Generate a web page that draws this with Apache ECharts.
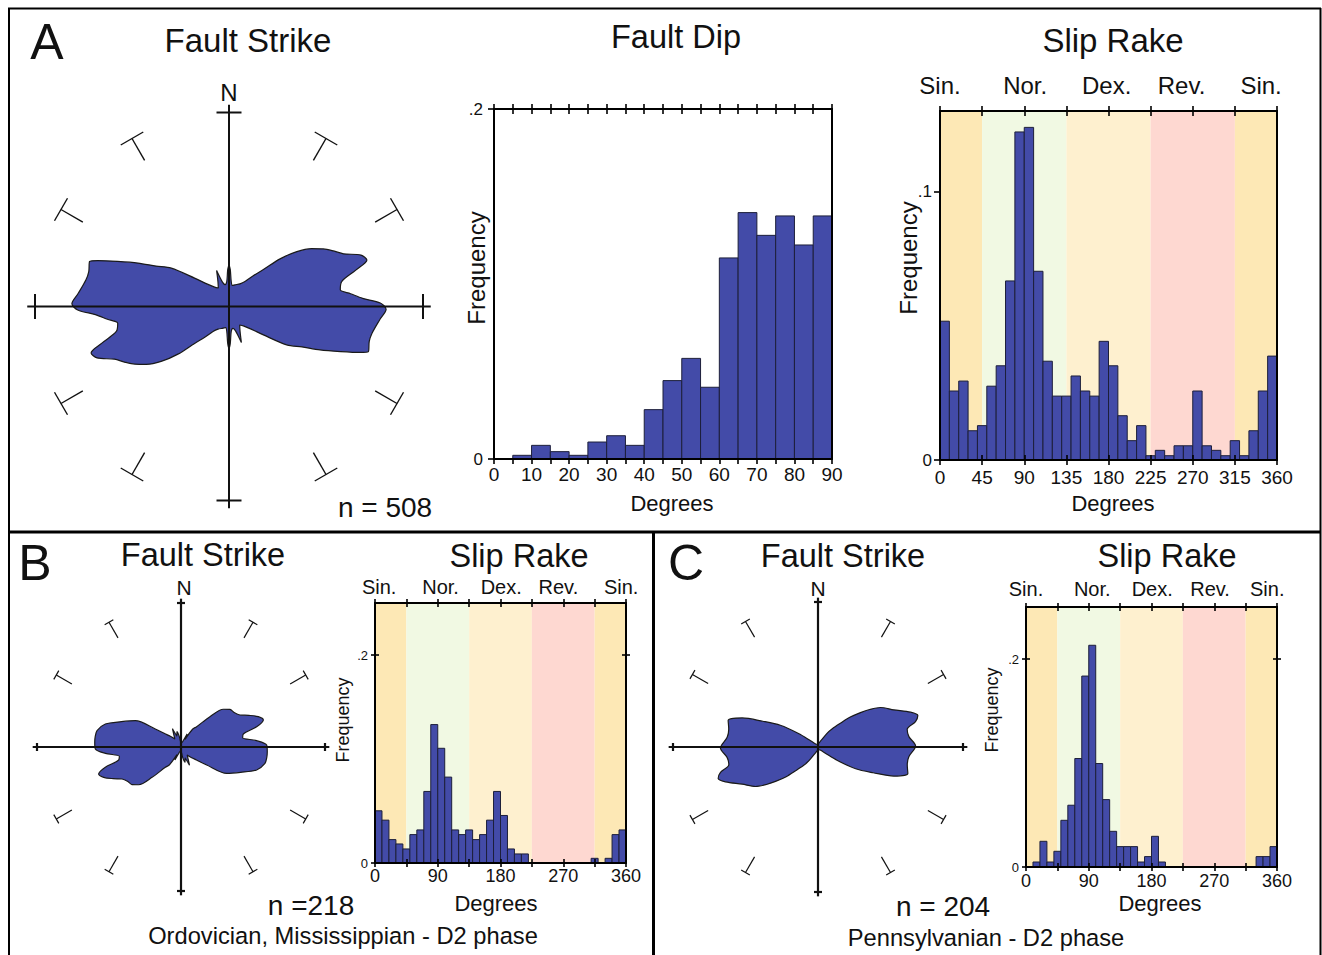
<!DOCTYPE html>
<html><head><meta charset="utf-8">
<script src="https://cdn.jsdelivr.net/npm/echarts@6/dist/echarts.min.js"></script>
<style>html,body{margin:0;padding:0;background:#fff}#c{width:1322px;height:955px}</style>
</head><body><div id="c"></div>
<script>
// ================= DATA =================
// Strike rose tick directions (degrees from north)
const strikeTickAngles = [0,30,60,90,120,150,180,210,240,270,300,330];

// Fault strike roses: radius (% of outer ring) read at azimuths 0-180;
// strikes are bidirectional, so the 180-360 half repeats these readings.
const roseA_az = [0,2,5,9,15.5,25.9,32.6,38,43,47,51,55,58.6,62,65.3,68.7,71.4,74,77.5,81.5,84,86.5,88.7,91,95,100.6,104,107.9,109.3,112,115.5,119,123.6,129.5,136,143.4,150,156,161,165,170,175,178];
const roseA_r  = [21.5,19,13,11,11.6,13,15.3,20,26,36,45,52,57,61,65,73,75,68,59.5,58,63,69,78,81,78,75,74.5,75.5,71.6,62,52,43,35.7,23,16,12.4,11,14,19.6,13,11.5,13,19];

const roseB_az = [0,10,20,25,28,33,37.6,43.7,48.3,52.5,57,61.5,65,68.6,71.8,75,78.2,81.4,85.2,88.7,93.1,97,101,106.9,113,120,125,130,135,142,150,155,159,165,170,175];
const roseB_r  = [3,3,5,10,6,14.7,17.8,29.1,39.4,42.9,44,46.6,52,57.7,60.2,54.4,44.2,43.3,52.7,59.5,60,60,59.4,54.9,45,36.6,21.8,14,10.5,7,10,14,8,11,8,4];

const roseC_az = [0,15,25,33.4,38,43.3,47,51,54,57.7,63.9,69.4,72.5,75.4,78.8,83.5,89.4,96.1,101.4,106.4,111,115,120,125,130,140,160];
const roseC_r  = [2,3,5,11.3,16,22.5,30,37.7,44,51,58.2,68.2,72.2,69.5,62.7,63.1,67.3,63,62.8,64.6,56,42,30,16,7,3,2];

// Fault dip histogram (5 degree bins)
const dipBinStart = [0,5,10,15,20,25,30,35,40,45,50,55,60,65,70,75,80,85];
const dipBinWidth = 5;
const dipFreq = [0,0.0021,0.0078,0.0042,0.0021,0.0097,0.0133,0.0078,0.0282,0.0448,0.0575,0.041,0.1149,0.1408,0.1278,0.1389,0.1223,0.1389];

// Slip rake histograms (10 degree bins)
const rakeBinStart = [0,10,20,30,40,50,60,70,80,90,100,110,120,130,140,150,160,170,180,190,200,210,220,230,240,250,260,270,280,290,300,310,320,330,340,350];
const rakeBinWidth = 10;
const rakeA = [0.0517,0.0257,0.0294,0.0109,0.0128,0.0275,0.0351,0.0667,0.1222,0.1239,0.0703,0.0368,0.0238,0.0238,0.0313,0.0257,0.0238,0.0442,0.0351,0.0165,0.0072,0.0128,0.0016,0.0036,0.0016,0.0053,0.0053,0.0257,0.0053,0.0036,0.0016,0.0072,0.0016,0.0109,0.0257,0.0387];
const rakeB = [0.0502,0.0412,0.0225,0.0183,0.0135,0.0273,0.0318,0.0688,0.1331,0.1103,0.0826,0.0318,0.0273,0.0318,0.0225,0.0273,0.0412,0.0688,0.0457,0.0135,0.0087,0.0087,0,0,0,0,0,0,0,0,0,0.0045,0,0.0045,0.0273,0.0318];
const rakeC = [0,0.0048,0.0247,0.0048,0.0151,0.0449,0.0594,0.1043,0.1836,0.2132,0.0995,0.0648,0.0343,0.0196,0.0196,0.0196,0.0048,0.01,0.0295,0.0048,0,0,0,0,0,0,0,0,0,0,0,0,0,0.01,0.01,0.0196];

// Rake classes (background bands) and their top labels
const rakeBandEdges = [0,45,135,225,315,360];
const rakeBandColors = ['#FDE8B5','#F1F9E3','#FEF0CF','#FED8D1','#FDE8B5'];
const rakeClassLabels = ['Sin.','Nor.','Dex.','Rev.','Sin.'];
const rakeClassPosA = [0,91,178,258,343];
const rakeClassPosB = [6,94,181,263,353];
const rakeClassPosC = [0,95,181,264,346];
const freqTicksA = [0,0.1];
const freqTicksBC = [0,0.2];
const freqTickRightBC = [0.2];

// ================= CHART =================
const F = 'Liberation Sans';
const BAR = '#434BA8';
const chart = echarts.init(document.getElementById('c'), null, {renderer:'svg', width:1322, height:955});

const xAxes = [], yAxes = [];
const addX = o => (xAxes.push(o), xAxes.length - 1);
const addY = o => (yAxes.push(o), yAxes.length - 1);
function ax(grid, pos, min, max, interval, tick, label) {
  return {gridIndex:grid, type:'value', position:pos, min, max, interval, z:10,
    axisLine:{show:true, onZero:false, lineStyle:{color:'#000', width:2}},
    splitLine:{show:false},
    axisTick: tick ? Object.assign({show:true, lineStyle:{color:'#000', width:1.6}}, tick) : {show:false},
    axisLabel: label ? Object.assign({show:true, color:'#111', fontFamily:F}, label) : {show:false}};
}
const fmtFreq = v => v === 0 ? '0' : String(v).replace(/^0/, '');
const classFmt = pos => v => { const i = pos.indexOf(v); return i >= 0 ? rakeClassLabels[i] : ''; };

const grids = [
  {left:494, top:109, width:338, height:350},
  {left:940, top:111, width:337, height:349},
  {left:375, top:603, width:251, height:260},
  {left:1026, top:607, width:251, height:260}
].map(g => Object.assign({containLabel:false, outerBoundsMode:'none'}, g));

// Grid 0: fault dip
const xDip = addX(ax(0,'bottom',0,90,5,{length:5},{fontSize:19, margin:6, formatter:v => v % 10 === 0 ? String(v) : ''}));
addX(ax(0,'top',0,90,5,{length:5},null));
addX(ax(0,'top',0,90,5,{length:5, inside:true},null));
const yDip = addY(ax(0,'left',0,0.2,0.2,{length:6},{fontSize:17, margin:11, formatter:fmtFreq}));
addY(ax(0,'right',0,0.2,0.2,null,null));

// Grid 1: slip rake A
const xRA = addX(ax(1,'bottom',0,360,45,{length:5},{fontSize:19, margin:8}));
addX(ax(1,'bottom',0,360,45,{length:5, inside:true},null));
addX(ax(1,'top',0,360,45,{length:5},{fontSize:24, margin:14, customValues:rakeClassPosA, formatter:classFmt(rakeClassPosA)}));
addX(ax(1,'top',0,360,45,{length:5, inside:true},null));
const yRA = addY(ax(1,'left',0,0.13,0.1,{length:6, customValues:freqTicksA},{fontSize:17, margin:8, customValues:freqTicksA, formatter:fmtFreq}));
addY(ax(1,'right',0,0.13,0.1,null,null));

// Grids 2,3: slip rake B, C
function rakeSmallAxes(g, classPos, lblMargin, topMargin) {
  const xi = addX(ax(g,'bottom',0,360,45,{length:4},{fontSize:18, margin:lblMargin, formatter:v => v % 90 === 0 ? String(v) : ''}));
  addX(ax(g,'bottom',0,360,45,{length:4, inside:true},null));
  addX(ax(g,'top',0,360,45,{length:4},{fontSize:20, margin:topMargin, customValues:classPos, formatter:classFmt(classPos)}));
  addX(ax(g,'top',0,360,45,{length:4, inside:true},null));
  const yi = addY(ax(g,'left',0,0.25,0.2,{length:4, customValues:freqTicksBC},{fontSize:13, margin:7, customValues:freqTicksBC, formatter:fmtFreq}));
  addY(ax(g,'left',0,0.25,0.2,{length:4, inside:true, customValues:freqTicksBC},null));
  addY(ax(g,'right',0,0.25,0.2,{length:4, customValues:freqTickRightBC},null));
  addY(ax(g,'right',0,0.25,0.2,{length:4, inside:true, customValues:freqTickRightBC},null));
  return [xi, yi];
}
const [xRB, yRB] = rakeSmallAxes(2, rakeClassPosB, 4, 6);
const [xRC, yRC] = rakeSmallAxes(3, rakeClassPosC, 5, 8);

function histSeries(xi, yi, starts, vals, w) {
  return {type:'custom', xAxisIndex:xi, yAxisIndex:yi, z:3, silent:true,
    data: starts.map((s, i) => [s, vals[i]]), encode:{x:0, y:1},
    renderItem(params, api) {
      const s = api.value(0), v = api.value(1);
      if (!v) return null;
      const p0 = api.coord([s, v]), p1 = api.coord([s + w, 0]);
      return {type:'rect', shape:{x:p0[0], y:p0[1], width:p1[0]-p0[0], height:p1[1]-p0[1]},
        style:{fill:BAR, stroke:'#1d1f3a', lineWidth:1}};
    }};
}
function bandSeries(xi, yi) {
  return {type:'custom', xAxisIndex:xi, yAxisIndex:yi, z:1, silent:true,
    data: rakeBandColors.map((c, i) => [rakeBandEdges[i], rakeBandEdges[i+1], i]), encode:{x:[0,1]},
    renderItem(params, api) {
      const a = api.coord([api.value(0), 0]), b = api.coord([api.value(1), 0]);
      const cs = params.coordSys;
      return {type:'rect', shape:{x:a[0], y:cs.y, width:b[0]-a[0], height:cs.height},
        style:{fill:rakeBandColors[api.value(2)]}};
    }};
}
function roseSeries(pi, az, r) {
  const pts = [];
  for (let i = 0; i < az.length; i++) pts.push([r[i], az[i]]);
  for (let i = 0; i < az.length; i++) pts.push([r[i], az[i] + 180]);
  pts.push([r[0], 360]);
  return {type:'line', coordinateSystem:'polar', polarIndex:pi, data:pts, symbol:'none', showSymbol:false,
    smooth:0.3, silent:true, z:3, lineStyle:{color:'#1a1a1a', width:1.2}, areaStyle:{color:BAR, opacity:1}};
}
function roseFrame(pi, o) {
  return {type:'custom', coordinateSystem:'polar', polarIndex:pi, silent:true, z:6,
    data: strikeTickAngles.map(a => [100, a]),
    renderItem(params, api) {
      const a = api.value(1);
      const c = api.coord([0, a]), t = api.coord([100, a]);
      const dx = t[0]-c[0], dy = t[1]-c[1], L = Math.hypot(dx, dy);
      const px = -dy / L, py = dx / L;
      const kids = [];
      const ln = (x1,y1,x2,y2,w) => ({type:'line', shape:{x1,y1,x2,y2}, style:{stroke:'#111', lineWidth:w}});
      if (a % 90 === 0) {
        const e = api.coord([o.ext, a]);
        kids.push(ln(c[0], c[1], e[0], e[1], o.wMain));
        kids.push(ln(t[0]+px*o.crossHalf, t[1]+py*o.crossHalf, t[0]-px*o.crossHalf, t[1]-py*o.crossHalf, o.wMain));
      } else {
        const s = api.coord([o.tInner, a]);
        kids.push(ln(s[0], s[1], t[0], t[1], o.wT));
        kids.push(ln(t[0]+px*o.tHalf, t[1]+py*o.tHalf, t[0]-px*o.tHalf, t[1]-py*o.tHalf, o.wT));
      }
      return {type:'group', children:kids};
    }};
}

const hidden = {axisLine:{show:false}, axisTick:{show:false}, axisLabel:{show:false}, splitLine:{show:false}, splitArea:{show:false}};
const polar = [
  {center:[229,306.5], radius:194},
  {center:[181,747], radius:144},
  {center:[818,747], radius:145}
];
const angleAxis = polar.map((p, i) => Object.assign({polarIndex:i, type:'value', min:0, max:360, startAngle:90, clockwise:true}, hidden));
const radiusAxis = polar.map((p, i) => Object.assign({polarIndex:i, type:'value', min:0, max:100}, hidden));

function txt(x, y, s, size, rot) {
  return {type:'text', x, y, rotation:rot || 0, z:20,
    style:{text:s, fontSize:size, fontFamily:F, fill:'#111', align:'center', verticalAlign:'middle'}};
}
const ln = (x1,y1,x2,y2,w) => ({type:'line', shape:{x1,y1,x2,y2}, style:{stroke:'#000', lineWidth:w}, z:20});
const R90 = Math.PI / 2;
const graphic = [
  ln(9,8,9,955,2), ln(8,8.5,1321,8.5,2), ln(1320.5,8,1320.5,955,2),
  ln(8,532,1321,532,3), ln(653.5,532,653.5,955,3),
  // Panel A
  txt(47,42,'A',50), txt(248,40,'Fault Strike',33), txt(676,37,'Fault Dip',32.5), txt(1113,40,'Slip Rake',33),
  txt(229,92,'N',24), txt(385,507,'n = 508',28),
  txt(672,503,'Degrees',22), txt(476,268,'Frequency',24,R90),
  txt(1113,503,'Degrees',22), txt(908,258,'Frequency',24,R90),
  // Panel B
  txt(35,563,'B',50), txt(203,555,'Fault Strike',32.5), txt(184,587,'N',21), txt(519,556,'Slip Rake',32.5),
  txt(343,720,'Frequency',18,R90), txt(496,903,'Degrees',22), txt(311,905,'n =218',28),
  txt(343,936,'Ordovician, Mississippian - D2 phase',23.7),
  // Panel C
  txt(686,563,'C',50), txt(843,556,'Fault Strike',32.5), txt(818,588,'N',21), txt(1167,556,'Slip Rake',32.5),
  txt(992,710,'Frequency',18,R90), txt(1160,903,'Degrees',22), txt(943,906,'n = 204',28),
  txt(986,938,'Pennsylvanian - D2 phase',23.7)
];

const series = [
  roseSeries(0, roseA_az, roseA_r),
  roseFrame(0, {ext:104, crossHalf:12.5, tHalf:13, tInner:87, wMain:2, wT:1.4}),
  roseSeries(1, roseB_az, roseB_r),
  roseFrame(1, {ext:103, crossHalf:4, tHalf:5, tInner:87.5, wMain:2.2, wT:1.2}),
  roseSeries(2, roseC_az, roseC_r),
  roseFrame(2, {ext:103, crossHalf:4, tHalf:5, tInner:87.5, wMain:2.2, wT:1.2}),
  histSeries(xDip, yDip, dipBinStart, dipFreq, dipBinWidth),
  bandSeries(xRA, yRA), histSeries(xRA, yRA, rakeBinStart, rakeA, rakeBinWidth),
  bandSeries(xRB, yRB), histSeries(xRB, yRB, rakeBinStart, rakeB, rakeBinWidth),
  bandSeries(xRC, yRC), histSeries(xRC, yRC, rakeBinStart, rakeC, rakeBinWidth)
];

chart.setOption({
  animation:false, backgroundColor:'#fff',
  textStyle:{fontFamily:F},
  grid:grids, xAxis:xAxes, yAxis:yAxes,
  polar, angleAxis, radiusAxis,
  graphic, series
});
</script></body></html>
